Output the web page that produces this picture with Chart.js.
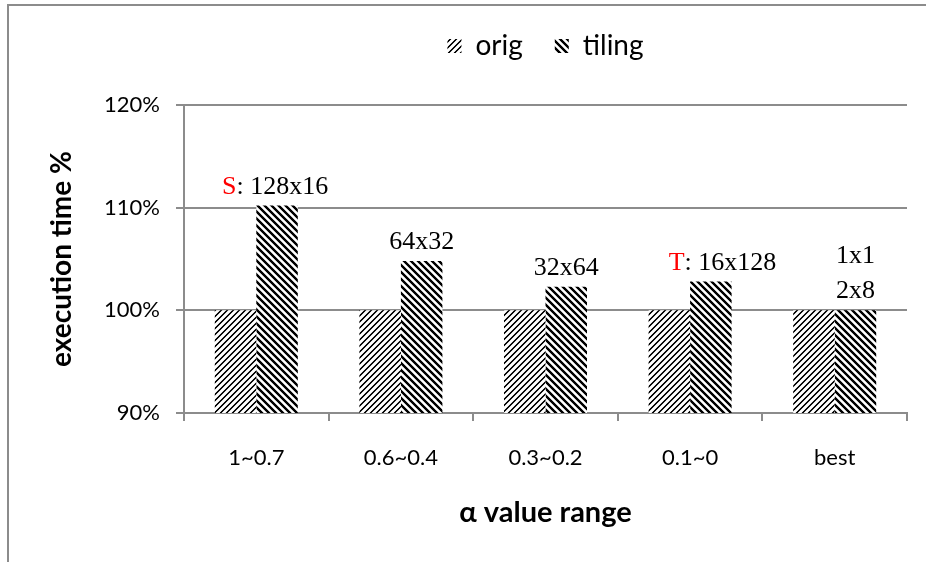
<!DOCTYPE html>
<html>
<head>
<meta charset="utf-8">
<script src="https://cdn.jsdelivr.net/npm/chart.js@4/dist/chart.umd.min.js"></script>
<style>
  html, body { margin: 0; padding: 0; background: #fff; }
  #wrap { position: relative; width: 926px; height: 562px; overflow: hidden; background: #fff; }
  #frame { position: absolute; left: 7px; top: 4px; right: -4px; bottom: -4px;
           border-top: 2px solid #8c8c8c; border-left: 2px solid #8c8c8c; }
  #c { position: absolute; left: 0; top: 0; }
</style>
</head>
<body>
<div id="wrap">
  <div id="frame"></div>
  <canvas id="c" width="926" height="562"></canvas>
</div>
<script>
// ---- data ----
const categories   = ['1~0.7', '0.6~0.4', '0.3~0.2', '0.1~0', 'best'];
const origValues   = [100, 100, 100, 100, 100];
const tilingValues = [110.2, 104.8, 102.3, 102.8, 100];
const yTicks       = [90, 100, 110, 120];
// tile size chosen for each range; a mark letter (S/T) is shown in red before it
const tileMarks    = ['S', '', '', 'T', ''];
const tileSizes    = [['128x16'], ['64x32'], ['32x64'], ['16x128'], ['1x1', '2x8']];

// ---- hatch fills ----
function stripePattern(period, rising, shade) {
  const cv = document.createElement('canvas');
  cv.width = period; cv.height = period;
  const g = cv.getContext('2d');
  const img = g.createImageData(period, period);
  for (let y = 0; y < period; y++) {
    for (let x = 0; x < period; x++) {
      const s = rising ? (x + y) : (x - y + period * 8);
      const t = ((s + 0.5) % period) / period;
      const v = Math.round(255 * Math.max(0, Math.min(1, shade(Math.cos(2 * Math.PI * t)))));
      const k = (y * period + x) * 4;
      img.data[k] = img.data[k + 1] = img.data[k + 2] = v;
      img.data[k + 3] = 255;
    }
  }
  g.putImageData(img, 0, 0);
  return g.createPattern(cv, 'repeat');
}
const ctx = document.getElementById('c').getContext('2d');
const origFill   = stripePattern(6, true,  c => 0.9 + 1.0 * c);
const tilingFill = stripePattern(7, false, c => 0.55 + 1.0 * c);

const GRID = '#8c8c8c';
const SANS = 'Lato, "Open Sans", sans-serif';

// fixed legend band height above the plot
const legendBand = {
  id: 'legendBand',
  afterInit(chart) {
    const lg = chart.legend;
    const fit = lg.fit;
    lg.fit = function () { fit.call(this); this.height = 105; };
  }
};

// tile-size labels above the tiling bars
const tileLabels = {
  id: 'tileLabels',
  afterDatasetsDraw(chart, args, opts) {
    const meta = chart.getDatasetMeta(1);
    const c = chart.ctx;
    c.save();
    c.font = '26px "Liberation Serif", "Times New Roman", serif';
    c.textBaseline = 'alphabetic';
    c.textAlign = 'left';
    meta.data.forEach((bar, i) => {
      const lines = tileSizes[i];
      const n = lines.length;
      lines.forEach((line, j) => {
        const mark = j === 0 ? tileMarks[i] : '';
        const head = mark ? mark : '';
        const tail = mark ? ': ' + line : line;
        const w = c.measureText(head + tail).width;
        const shift = (opts.shift && opts.shift[i]) || 0;
        let x = bar.x - w / 2 + shift;
        const y = bar.y - opts.gap - (n - 1 - j) * opts.lineGap;
        if (head) {
          c.fillStyle = '#ff0000';
          c.fillText(head, x, y);
          x += c.measureText(head).width;
        }
        c.fillStyle = '#000';
        c.fillText(tail, x, y);
      });
    });
    c.restore();
  }
};

Chart.defaults.color = '#000';
Chart.defaults.font.family = SANS;

new Chart(ctx, {
  type: 'bar',
  data: {
    labels: categories,
    datasets: [
      { label: 'orig',   data: origValues,   backgroundColor: origFill,
        borderWidth: 0, borderColor: 'rgba(0,0,0,0)' },
      { label: 'tiling', data: tilingValues, backgroundColor: tilingFill,
        borderWidth: 0, borderColor: 'rgba(0,0,0,0)' }
    ]
  },
  options: {
    responsive: false,
    animation: false,
    devicePixelRatio: 1,
    layout: { padding: { left: 0, right: 19, top: 0, bottom: 0 } },
    datasets: { bar: { categoryPercentage: 0.574, barPercentage: 1.0 } },
    plugins: {
      legend: {
        position: 'top',
        align: 'center',
        fullSize: false,
        labels: {
          font: { size: 28, family: SANS },
          color: '#000',
          boxWidth: 14,
          boxHeight: 14,
          padding: 32
        }
      },
      tooltip: { enabled: false },
      tileLabels: { gap: 12, lineGap: 35, shift: [-2, 0, 0, 11, 0] }
    },
    scales: {
      x: {
        afterFit(s) { s.height = 149; },
        grid: { display: true, drawOnChartArea: false, drawTicks: true,
                tickLength: 8, color: GRID, lineWidth: 2, offset: true },
        border: { display: true, color: GRID, width: 2 },
        ticks: { font: { size: 22, family: SANS }, color: '#000', padding: 24,
                 maxRotation: 0, autoSkip: false },
        title: { display: true, text: 'α value range',
                 font: { size: 29, weight: 'bold', family: SANS }, color: '#000',
                 padding: { top: 0, bottom: 32 } }
      },
      y: {
        min: 90, max: 120,
        afterFit(s) { s.width = 184; },
        afterBuildTicks(s) { s.ticks = yTicks.map(v => ({ value: v })); },
        grid: { display: true, drawTicks: true, tickLength: 8, color: GRID, lineWidth: 2 },
        border: { display: true, color: GRID, width: 2 },
        ticks: { font: { size: 22, family: SANS }, color: '#000', padding: 16,
                 callback: v => v + '%' },
        title: { display: true, text: 'execution time %',
                 font: { size: 28, weight: 'bold', family: SANS }, color: '#000',
                 padding: { top: 45, bottom: 0 } }
      }
    }
  },
  plugins: [legendBand, tileLabels]
});
</script>
</body>
</html>
